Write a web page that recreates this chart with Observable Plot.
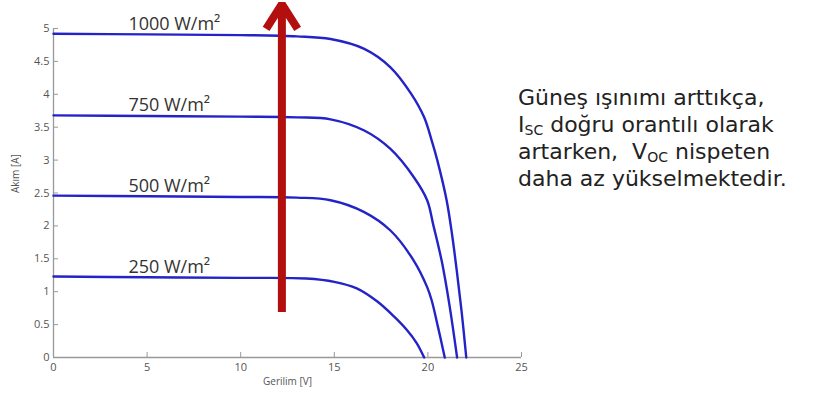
<!DOCTYPE html>
<html>
<head>
<meta charset="utf-8">
<script src="https://cdn.jsdelivr.net/npm/d3@7"></script>
<script src="https://cdn.jsdelivr.net/npm/@observablehq/plot@0.6"></script>
<style>
  html, body { margin: 0; padding: 0; background: #fff; }
  #wrap { position: relative; width: 828px; height: 403px; overflow: hidden; }
  #chart { position: absolute; left: 0; top: 0; }
  .note {
    position: absolute; left: 518px;
    font-family: "DejaVu Sans", sans-serif; font-size: 22px; line-height: 22px;
    color: #222; white-space: nowrap;
  }
  .note sub { font-size: 14px; vertical-align: -3px; line-height: 0; }
</style>
</head>
<body>
<div id="wrap">
  <div id="chart"></div>
  <div class="note" style="top:87px">Güneş ışınımı arttıkça,</div>
  <div class="note" style="top:114px">I<sub>SC</sub> doğru orantılı olarak</div>
  <div class="note" style="top:141px">artarken,&nbsp; V<sub>OC</sub> nispeten</div>
  <div class="note" style="top:168px">daha az yükselmektedir.</div>
</div>
<script>
// Irradiance series labels and short-circuit currents
const series = ["250 W/m²", "500 W/m²", "750 W/m²", "1000 W/m²"];
const iscValues = [1.23, 2.46, 3.68, 4.92];

// I-V curves (voltage [V], current [A])
const v250  = [0, 5, 10, 13.5, 15.0, 16.2, 17.3, 18.2, 18.9, 19.4, 19.8];
const i250  = [1.23, 1.22, 1.21, 1.20, 1.15, 1.05, 0.85, 0.62, 0.41, 0.22, 0];
const v500  = [0, 5, 10, 13, 14.8, 16.6, 18.0, 19.25, 19.96, 20.2, 20.55, 20.9];
const i500  = [2.46, 2.45, 2.44, 2.43, 2.39, 2.21, 1.93, 1.47, 1.07, 0.87, 0.45, 0];
const v750  = [0, 5, 10, 13, 14.8, 16.6, 18.0, 19.25, 19.96, 20.3, 20.75, 21.15, 21.56];
const i750  = [3.68, 3.67, 3.66, 3.65, 3.62, 3.45, 3.17, 2.74, 2.39, 2.0, 1.45, 0.8, 0];
const v1000 = [0, 5, 10, 13, 14.8, 16.6, 18.0, 19.1, 19.8, 20.2, 20.5, 21.0, 21.3, 21.55, 21.8, 22.05];
const i1000 = [4.92, 4.91, 4.90, 4.88, 4.84, 4.69, 4.41, 4.01, 3.65, 3.30, 3.00, 2.39, 1.85, 1.3, 0.7, 0];

// Axis ticks
const xTicks = [0, 5, 10, 15, 20, 25];
const yTicks = [0, 0.5, 1, 1.5, 2, 2.5, 3, 3.5, 4, 4.5, 5];

// Arrow (irradiance increase)
const arrowV = 12.2;
const arrowFrom = 0.69;
const arrowTo = 5.37;

const curves = [[v250, i250], [v500, i500], [v750, i750], [v1000, i1000]];
const rows = curves.flatMap(([vs, is], k) => vs.map((v, j) => ({series: series[k], v, i: is[j]})));
const labels = series.map((s, k) => ({s, i: iscValues[k]}));

const plot = Plot.plot({
  width: 540,
  height: 403,
  marginLeft: 53,
  marginRight: 19,
  marginTop: 28,
  marginBottom: 46,
  style: {fontFamily: "Open Sans, sans-serif", background: "transparent", overflow: "visible"},
  x: {domain: [0, 25], label: null},
  y: {domain: [0, 5], label: null},
  marks: [
    Plot.ruleX([0], {stroke: "#999", strokeWidth: 1.3}),
    Plot.ruleY([0], {stroke: "#999", strokeWidth: 1.3}),
    Plot.axisX(xTicks, {tickSize: 5, dy: -5, tickFormat: () => "", stroke: "#999"}),
    Plot.axisY(yTicks, {tickSize: 5, dx: 5, tickFormat: () => "", stroke: "#999"}),
    Plot.axisX(xTicks, {tickSize: 0, tickPadding: 6, fontSize: 11, fill: "#555", label: null, tickFormat: d => `${d}`}),
    Plot.axisY(yTicks, {tickSize: 0, tickPadding: 4, fontSize: 11, fill: "#555", label: null, tickFormat: d => `${d}`}),
    Plot.text(["Gerilim [V]"], {frameAnchor: "bottom", dy: 27, fontSize: 10, fill: "#555"}),
    Plot.text(["Akım [A]"], {frameAnchor: "left", dx: -38, rotate: -90, fontSize: 10, fill: "#555"}),
    Plot.line(rows, {x: "v", y: "i", z: "series", stroke: "#2323c8", strokeWidth: 2.4, curve: "catmull-rom"}),
    Plot.text(labels, {x: 4, y: "i", text: "s", textAnchor: "start", lineAnchor: "bottom", dy: -4, fontSize: 18, fill: "#333"}),
    Plot.arrow([{x: arrowV, y1: arrowFrom, y2: arrowTo}], {
      x1: "x", x2: "x", y1: "y1", y2: "y2",
      stroke: "#b30f0f", strokeWidth: 8, headLength: 5.5, headAngle: 65,
      strokeLinecap: "butt", strokeLinejoin: "miter"
    })
  ]
});
document.getElementById("chart").appendChild(plot);
</script>
</body>
</html>
